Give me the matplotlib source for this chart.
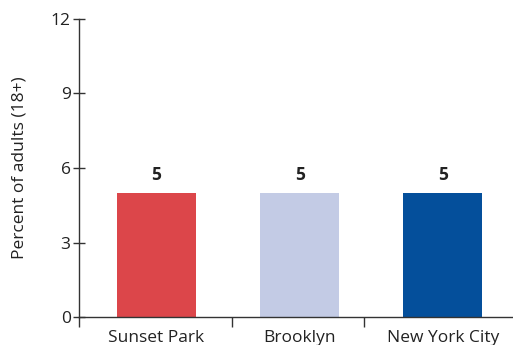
import matplotlib.pyplot as plt

plt.rcParams["font.family"] = ["Open Sans", "DejaVu Sans"]

categories = ["Sunset Park", "Brooklyn", "New York City"]
values = [5, 5, 5]
colors = ["#dc464a", "#c3cbe5", "#044f9b"]
y_ticks = [0, 3, 6, 9, 12]

fig = plt.figure(figsize=(5.13, 3.45), dpi=100)
ax = fig.add_axes([0.154, 0.081, 0.846, 0.864])

x = list(range(len(categories)))
bars = ax.bar(x, values, width=0.55, color=colors)
for xi, v in zip(x, values):
    ax.text(xi, v + 0.35, f"{v:g}", ha="center", va="bottom",
            fontsize=12.5, fontweight="bold", color="#222222")

ax.set_xlim(-0.54, 2.49)
ax.set_ylim(0, 12)
ax.set_yticks(y_ticks)
ax.tick_params(axis="y", direction="inout", length=8, width=1,
               labelsize=12.5, color="#333333", labelcolor="#222222", pad=2)

# category labels without ticks, separators as minor ticks
ax.set_xticks(x)
ax.set_xticklabels(categories)
ax.tick_params(axis="x", which="major", length=0, labelsize=12.5,
               labelcolor="#222222", pad=9)
ax.set_xticks([-0.54, 0.526, 1.453], minor=True)
ax.tick_params(axis="x", which="minor", direction="out", length=7,
               width=1, color="#333333")

for side in ["top", "right"]:
    ax.spines[side].set_visible(False)
for side in ["left", "bottom"]:
    ax.spines[side].set_color("#333333")
    ax.spines[side].set_linewidth(1)

ax.set_ylabel("Percent of adults (18+)", fontsize=12.5, color="#222222",
              labelpad=17)

fig.savefig("out.png", dpi=100)
